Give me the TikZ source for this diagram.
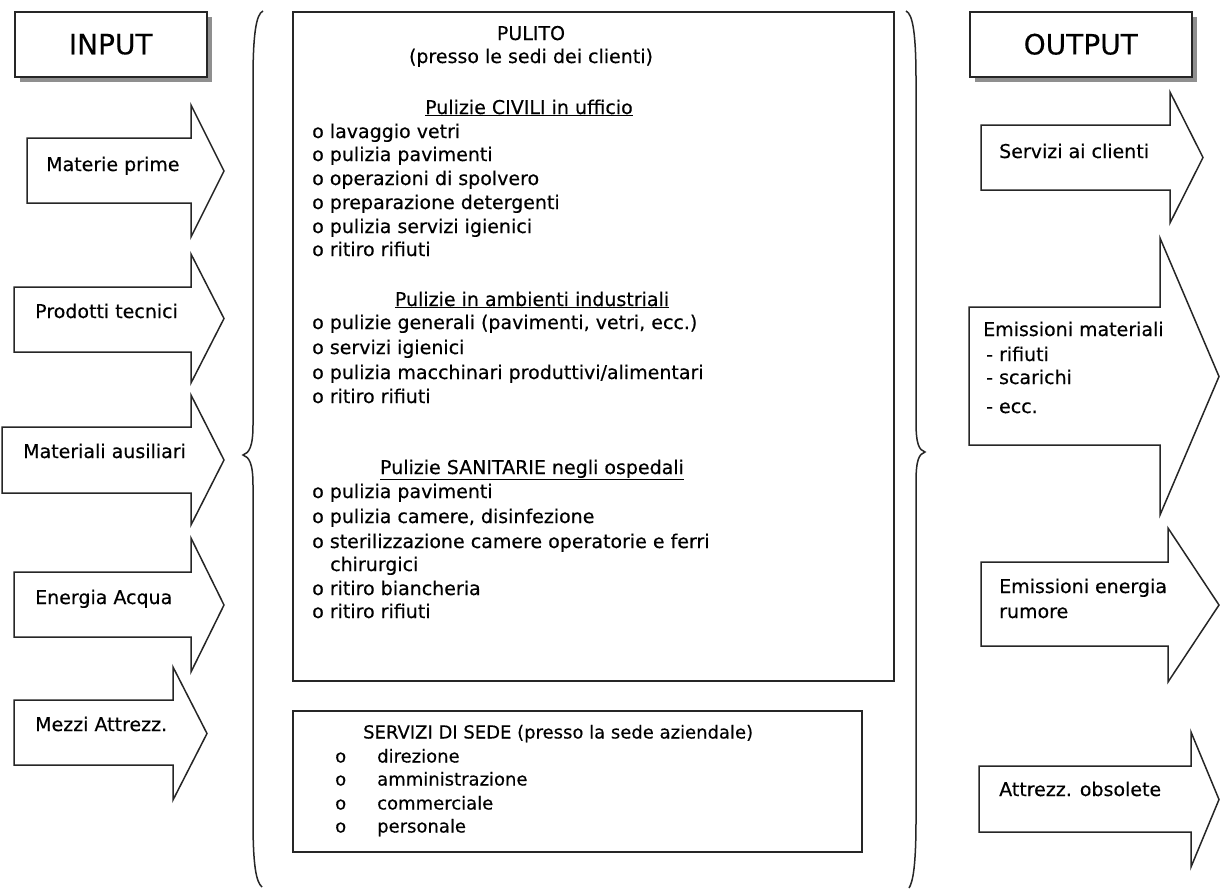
\documentclass[tikz,border=0pt]{standalone}
\usepackage{fontspec}
\setmainfont{DejaVu Sans}[FakeBold=0.35]
\usetikzlibrary{shadows}
\begin{document}
\begin{tikzpicture}[x=1pt,y=-1pt,
  box/.style={draw=black!85, line width=1.5pt, fill=white},
  hdrbox/.style={box, drop shadow={shadow xshift=5pt, shadow yshift=-5pt, fill=black!55, opacity=0.8}},
  arrowbox/.style={draw=black!85, line width=1.5pt, fill=white, line join=miter},
  brace/.style={draw=black!85, line width=1.5pt},
  txt/.style={inner sep=0pt, text height=14pt, text depth=4pt, font=\fontsize{19}{23}\selectfont},
  lbl/.style={txt, anchor=west},
  ctr/.style={txt, anchor=center},
  small/.style={inner sep=0pt, text height=13pt, text depth=4pt, font=\fontsize{18}{22}\selectfont, anchor=west}
]
\useasboundingbox (0,0) rectangle (1221,892);
\newcommand{\fatarrow}[7]{\draw[arrowbox] (#1,#2) -- (#4,#2) -- (#4,#5) -- (#7,{(#5+#6)/2}) -- (#4,#6) -- (#4,#3) -- (#1,#3) -- cycle;}

% header boxes
\node[hdrbox, anchor=north west, minimum width=192pt, minimum height=65pt, font=\fontsize{28}{30}\selectfont] (input) at (14,11) {INPUT};
\node[hdrbox, anchor=north west, minimum width=222pt, minimum height=65pt, font=\fontsize{28}{30}\selectfont] (output) at (969,11) {OUTPUT};

% input arrows
\fatarrow{27}{138}{203}{191}{105}{237}{224}
\fatarrow{14}{287}{352}{191}{254}{383}{224}
\fatarrow{2}{427}{493}{191}{395}{525}{224}
\fatarrow{14}{572}{637}{191}{538}{672}{224}
\fatarrow{14}{700}{765}{173}{667}{800}{207}
\node[lbl] (materie) at (46,166) {Materie prime};
\node[lbl] (prodotti) at (35,313) {Prodotti tecnici};
\node[lbl] (ausiliari) at (23,453) {Materiali ausiliari};
\node[lbl] (energia) at (35,599) {Energia Acqua};
\node[lbl] (mezzi) at (35,726) {Mezzi Attrezz.};

% output arrows
\fatarrow{981}{125}{190}{1170}{92}{223}{1203}
\fatarrow{969}{307}{445}{1160}{238}{515}{1219}
\fatarrow{981}{562}{646}{1168}{528}{682}{1219}
\fatarrow{979}{766}{832}{1191}{732}{867}{1219}
\node[lbl] (servcli) at (999,153) {Servizi ai clienti};
\node[lbl] (emmat) at (983,331) {Emissioni materiali};
\node[lbl] (rifiuti) at (986,356) {- rifiuti};
\node[lbl] (scarichi) at (986,379) {- scarichi};
\node[lbl] (ecc) at (986,408) {- ecc.};
\node[lbl] (emen) at (999,588) {Emissioni energia};
\node[lbl] (rumore) at (999,613) {rumore};
\node[lbl] (obsolete) at (999,791) {Attrezz. obsolete};

% braces
\draw[brace] (263,11) .. controls (256,14) and (253,35) .. (253,80) -- (253,425) .. controls (253,447) and (249,453) .. (243,455) .. controls (249,457) and (253,463) .. (253,485) -- (253,820) .. controls (253,865) and (256,882) .. (262,887);
\draw[brace] (906,11) .. controls (913,14) and (916,35) .. (916,80) -- (916,422) .. controls (916,444) and (919,450) .. (925,452) .. controls (919,454) and (916,460) .. (916,482) -- (916,820) .. controls (916,865) and (913,882) .. (909,888);

% main box
\node[box, anchor=north west, minimum width=601pt, minimum height=669pt] (pulito) at (292,11) {};
\node[ctr] (t1) at (531,35) {PULITO};
\node[ctr] (t2) at (531,58) {(presso le sedi dei clienti)};
\node[ctr] (h1) at (529,109) {\underline{Pulizie CIVILI in ufficio}};
\node[lbl] (a1) at (312,133) {o lavaggio vetri};
\node[lbl] (a2) at (312,156) {o pulizia pavimenti};
\node[lbl] (a3) at (312,180) {o operazioni di spolvero};
\node[lbl] (a4) at (312,204) {o preparazione detergenti};
\node[lbl] (a5) at (312,228) {o pulizia servizi igienici};
\node[lbl] (a6) at (312,251) {o ritiro rifiuti};
\node[ctr] (h2) at (532,301) {\underline{Pulizie in ambienti industriali}};
\node[lbl] (b1) at (312,324) {o pulizie generali (pavimenti, vetri, ecc.)};
\node[lbl] (b2) at (312,349) {o servizi igienici};
\node[lbl] (b3) at (312,374) {o pulizia macchinari produttivi/alimentari};
\node[lbl] (b4) at (312,398) {o ritiro rifiuti};
\node[ctr] (h3) at (532,469) {\underline{Pulizie SANITARIE negli ospedali}};
\node[lbl] (c1) at (312,493) {o pulizia pavimenti};
\node[lbl] (c2) at (312,518) {o pulizia camere, disinfezione};
\node[lbl] (c3) at (312,543) {o sterilizzazione camere operatorie e ferri};
\node[lbl] (c3b) at (330,566) {chirurgici};
\node[lbl] (c4) at (312,590) {o ritiro biancheria};
\node[lbl] (c5) at (312,613) {o ritiro rifiuti};

% servizi di sede box
\node[box, anchor=north west, minimum width=569pt, minimum height=141pt] (sede) at (292,710) {};
\node[small] (s0) at (363,734) {SERVIZI DI SEDE (presso la sede aziendale)};
\foreach \yy/\tt/\nm in {758/direzione/s1, 781/amministrazione/s2, 805/commerciale/s3, 828/personale/s4}{
  \node[small] (\nm b) at (335,\yy) {o};
  \node[small] (\nm) at (377,\yy) {\tt};
}
\end{tikzpicture}
\end{document}
